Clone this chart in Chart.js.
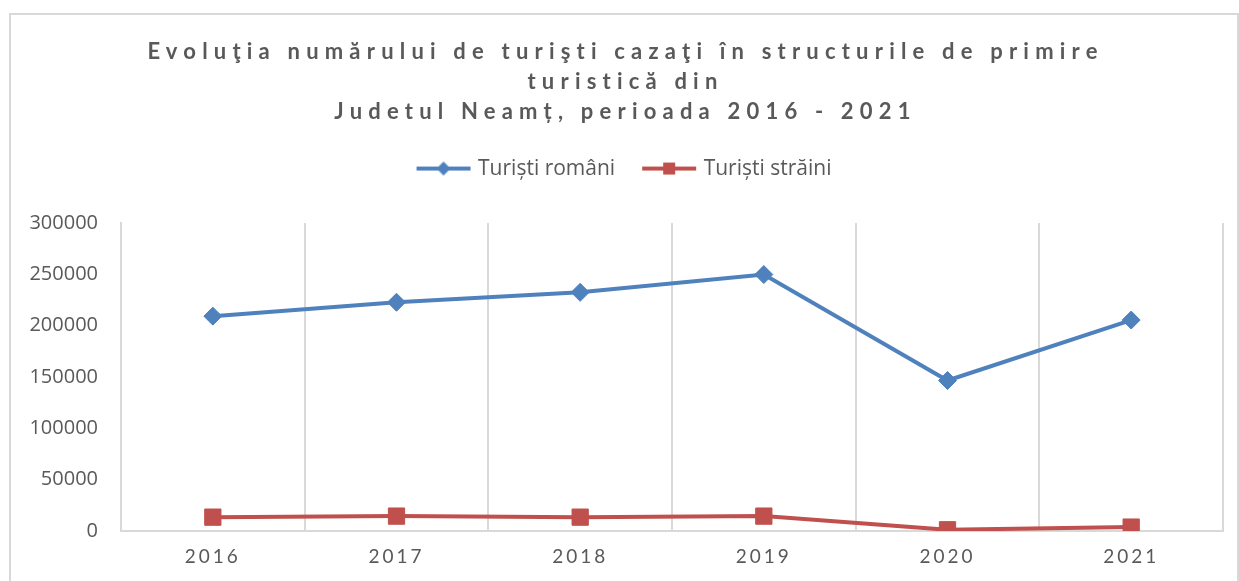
<!DOCTYPE html>
<html lang="ro">

<head>
    <meta charset="UTF-8">
    <meta name="viewport" content="width=device-width, initial-scale=1.0">
    <title>Turiști cazați Neamț</title>
    <style>
        html, body { margin: 0; padding: 0; background: #fff; }
        .cadru { position: absolute; left: 9px; top: 13px; width: 1230px; height: 600px; border: 2px solid #d9d9d9; box-sizing: border-box; }
        .grafic { position: absolute; left: 0; top: 0; width: 1239px; height: 581px; }
    </style>
</head>

<body>
    <div class="cadru"></div>
    <div class="grafic"><canvas id="grafica"></canvas></div>

    <script src="https://cdn.jsdelivr.net/npm/chart.js@4.4.0/dist/chart.umd.min.js"></script>
    <script>
        // date
        const ani = ['2016', '2017', '2018', '2019', '2020', '2021'];
        const turistiRomani = [209300, 222800, 232500, 249800, 146600, 205500];
        const turistiStraini = [13500, 14500, 13500, 14500, 1200, 3800];
        const titlu = ['Evoluţia numărului de turişti cazaţi în structurile de primire', 'turistică din', 'Judetul Neamț, perioada 2016 - 2021'];

        const albastru = '#4f81bd';
        const rosu = '#c0504d';
        const gri = '#595959';

        // linie + marker pentru legenda
        function marker(culoare, forma) {
            const c = document.createElement('canvas');
            c.width = 56; c.height = 16;
            const g = c.getContext('2d');
            g.strokeStyle = culoare; g.lineWidth = 4;
            g.beginPath(); g.moveTo(1, 8); g.lineTo(55, 8); g.stroke();
            g.fillStyle = culoare;
            if (forma === 'romb') {
                g.beginPath(); g.moveTo(28, 1); g.lineTo(35, 8); g.lineTo(28, 15); g.lineTo(21, 8); g.closePath(); g.fill();
            } else {
                g.fillRect(22, 2, 12, 12);
            }
            return c;
        }
        const markere = [marker(albastru, 'romb'), marker(rosu, 'patrat')];

        // spatiere intre litere pentru titlu si etichetele anilor
        function spatiere(obj, nume, ls) {
            if (!obj || obj[nume]._spatiat) return;
            const orig = obj[nume];
            const fn = function () {
                const ctx = this.ctx;
                ctx.save();
                ctx.letterSpacing = ls;
                orig.apply(this, arguments);
                ctx.restore();
            };
            fn._spatiat = true;
            obj[nume] = fn;
        }
        const pluginSpatiere = {
            id: 'spatiere',
            beforeInit(chart) {
                const fit = chart.legend.fit;
                chart.legend.fit = function () { fit.bind(chart.legend)(); this.height += 34; };
            },
            beforeDraw(chart) {
                spatiere(chart.titleBlock, 'draw', '6.2px');
                spatiere(chart.scales.x, 'drawLabels', '3px');
            }
        };

        const ctx = document.getElementById('grafica').getContext('2d');
        const grafica = new Chart(ctx, {
            type: 'line',
            data: {
                labels: ani,
                datasets: [{
                    label: 'Turiști români',
                    data: turistiRomani,
                    borderColor: albastru,
                    backgroundColor: albastru,
                    borderWidth: 4,
                    pointStyle: 'rectRot',
                    pointRadius: 9,
                    pointHoverRadius: 9,
                    pointBorderWidth: 1,
                    tension: 0
                }, {
                    label: 'Turiști străini',
                    data: turistiStraini,
                    borderColor: rosu,
                    backgroundColor: rosu,
                    borderWidth: 4,
                    pointStyle: 'rect',
                    pointRadius: 11.5,
                    pointHoverRadius: 11.5,
                    pointBorderWidth: 1,
                    tension: 0
                }]
            },
            options: {
                responsive: true,
                maintainAspectRatio: false,
                animation: false,
                layout: { padding: { top: 24, left: 28, right: 16, bottom: 13 } },
                plugins: {
                    title: {
                        display: true,
                        text: titlu,
                        color: gri,
                        font: { family: 'Lato', size: 22, weight: 'bold', lineHeight: 1.364 },
                        padding: { top: 13, bottom: 1 }
                    },
                    legend: {
                        position: 'top',
                        labels: {
                            color: gri,
                            font: { family: 'Open Sans', size: 21 },
                            usePointStyle: true,
                            pointStyleWidth: 48,
                            padding: 30,
                            generateLabels(chart) {
                                return chart.data.datasets.map((ds, i) => ({
                                    text: ds.label,
                                    fillStyle: ds.borderColor,
                                    strokeStyle: ds.borderColor,
                                    fontColor: gri,
                                    lineWidth: 0,
                                    pointStyle: markere[i],
                                    hidden: !chart.isDatasetVisible(i),
                                    datasetIndex: i
                                }));
                            }
                        }
                    },
                    tooltip: { enabled: false }
                },
                scales: {
                    x: {
                        offset: true,
                        grid: { offset: true, color: '#d9d9d9', lineWidth: 2, drawTicks: false },
                        border: { color: '#d9d9d9', width: 2 },
                        ticks: { color: gri, font: { family: 'Lato', size: 19 }, padding: 14 },
                        afterFit(scale) { scale.height = 37; }
                    },
                    y: {
                        min: 0,
                        max: 300000,
                        grid: { display: false, drawTicks: false },
                        border: { display: true, color: '#d9d9d9', width: 2 },
                        ticks: {
                            stepSize: 50000,
                            color: gri,
                            font: { family: 'Open Sans', size: 20 },
                            padding: 23,
                            callback: (v) => String(v)
                        },
                        afterFit(scale) { scale.width = 93; }
                    }
                }
            },
            plugins: [pluginSpatiere]
        });
    </script>
</body>

</html>
